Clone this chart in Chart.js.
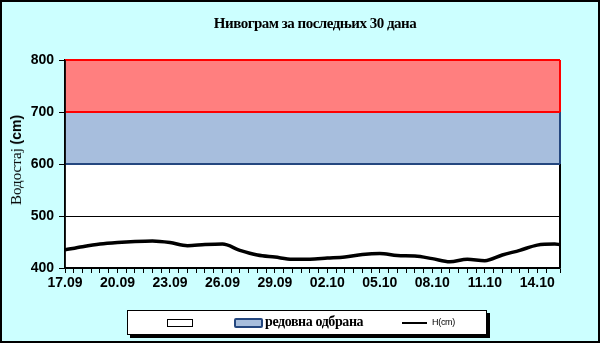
<!DOCTYPE html>
<html><head><meta charset="utf-8">
<script src="https://cdn.jsdelivr.net/npm/chart.js@4/dist/chart.umd.min.js"></script>
<style>
html,body{margin:0;padding:0;}
body{width:600px;height:343px;background:#CCFFFF;position:relative;overflow:hidden;font-family:"Liberation Sans",Arial,sans-serif;}
#frame{position:absolute;left:0;top:0;width:596px;height:339px;border:2px solid #000;pointer-events:none;}
#wrap{position:absolute;left:0;top:0;width:600px;height:343px;}
#title{position:absolute;left:0;width:630px;top:15px;text-align:center;font:bold 15px "Liberation Serif","Times New Roman",serif;letter-spacing:-0.5px;color:#000;}
#ytitle{position:absolute;left:16px;top:160px;transform:translate(-50%,-50%) rotate(-90deg);white-space:nowrap;color:#000;}
#legend{position:absolute;left:127px;top:310px;width:358px;height:23px;background:#fff;border:1px solid #000;box-shadow:3px 3px 0 #000;}
.sw{position:absolute;}
.lt{position:absolute;white-space:nowrap;color:#000;}
</style></head>
<body>
<div id="wrap"><canvas id="c" width="600" height="343"></canvas></div>
<div id="title">Нивограм за последњих 30 дана</div>
<div id="ytitle"><span style="font:15px 'Liberation Serif','Times New Roman',serif;">Водостај </span><span style="font:bold 14px 'Liberation Sans',Arial,sans-serif;">(cm)</span></div>
<div id="legend">
  <div class="sw" style="left:39px;top:8px;width:24px;height:6px;border:1px solid #000;background:#fff;"></div>
  <div class="sw" style="left:106px;top:7px;width:25px;height:6px;border:2px solid #24477F;border-radius:2px;background:#A7BEDD;"></div>
  <div class="lt" style="left:137px;top:3px;font:bold 14px 'Liberation Serif','Times New Roman',serif;letter-spacing:-0.4px;">редовна одбрана</div>
  <div class="sw" style="left:274px;top:11px;width:25px;height:2px;background:#000;"></div>
  <div class="lt" style="left:304px;top:6px;font:9px 'Liberation Sans',Arial,sans-serif;letter-spacing:-0.3px;">H(cm)</div>
</div>
<div id="frame"></div>
<script>
// ---- data ----
const dayOffsets = [0,1,2,3,4,5,6,7,8,9,10,11,12,13,14,15,16,17,18,19,20,21,22,23,24,25,26,27,28,28.3];
const levels = [435,441,446,449,451,452,449,443,445,446,434,425,421,417,417,419,421,426,428,424,423,418,412,417,414,425,434,444,446,445];
const tickLabels = ['17.09','20.09','23.09','26.09','29.09','02.10','05.10','08.10','11.10','14.10'];
const bandLow = [400,600,700];
const bandHigh = [600,700,800];
const bandFill = ['#FFFFFF','#A7BEDD','#FF7F7F'];
const bandEdge = ['#000000','#24477F','#FF0000'];

const bandsPlugin = {
  id:'bands',
  beforeDraw(chart){
    const {ctx, chartArea:a, scales:{y}} = chart;
    ctx.save();
    for(let i=0;i<bandLow.length;i++){
      const t=y.getPixelForValue(bandHigh[i]), b=y.getPixelForValue(bandLow[i]);
      ctx.fillStyle=bandFill[i];
      ctx.fillRect(a.left,t,a.right-a.left,b-t);
    }
    ctx.restore();
  },
  beforeDatasetsDraw(chart){
    const {ctx, chartArea:a, scales:{y}} = chart;
    ctx.save();
    ctx.lineWidth=2;
    for(let i=0;i<bandLow.length;i++){
      const t=y.getPixelForValue(bandHigh[i]), b=y.getPixelForValue(bandLow[i]);
      ctx.strokeStyle=bandEdge[i];
      ctx.beginPath();
      ctx.moveTo(a.right,b);ctx.lineTo(a.right,t);
      if(i>0){ctx.moveTo(a.left,t);ctx.lineTo(a.right,t);ctx.moveTo(a.left,b);ctx.lineTo(a.right,b);}
      ctx.stroke();
    }
    ctx.strokeStyle='#000';ctx.lineWidth=1.5;
    ctx.beginPath();ctx.moveTo(a.left,y.getPixelForValue(800));ctx.lineTo(a.left,a.bottom);ctx.stroke();
    ctx.restore();
  }
};

new Chart(document.getElementById('c'),{
  type:'line',
  data:{datasets:[{
    label:'H(cm)',
    data:dayOffsets.map((d,i)=>({x:d,y:levels[i]})),
    borderColor:'#000',borderWidth:3.5,pointRadius:0,tension:0.4,cubicInterpolationMode:'monotone',fill:false
  }]},
  options:{
    responsive:false,animation:false,
    layout:{padding:{left:0,right:40,top:60,bottom:0}},
    plugins:{legend:{display:false},tooltip:{enabled:false},title:{display:false}},
    scales:{
      x:{type:'linear',min:0,max:28.3,
        afterFit(s){s.height=75;},
        ticks:{stepSize:0.5,autoSkip:false,maxRotation:0,padding:2,color:'#000',
          font:{family:'"Liberation Sans", Arial, sans-serif',size:14,weight:'bold'},
          callback(v){const k=v/3;return Math.abs(k-Math.round(k))<1e-6?(tickLabels[Math.round(k)]||''):'';}},
        grid:{drawOnChartArea:false,color:'#000',tickLength:5,lineWidth:1},
        border:{color:'#000',width:1.5}
      },
      y:{min:400,max:800,
        afterFit(s){s.width=65;},
        ticks:{stepSize:100,padding:5,color:'#000',font:{family:'"Liberation Sans", Arial, sans-serif',size:14,weight:'bold'}},
        grid:{color:'#000',tickLength:6,lineWidth:1},
        border:{color:'#000',width:1.5},
        title:{display:false}
      }
    }
  },
  plugins:[bandsPlugin]
});
</script>
</body></html>
